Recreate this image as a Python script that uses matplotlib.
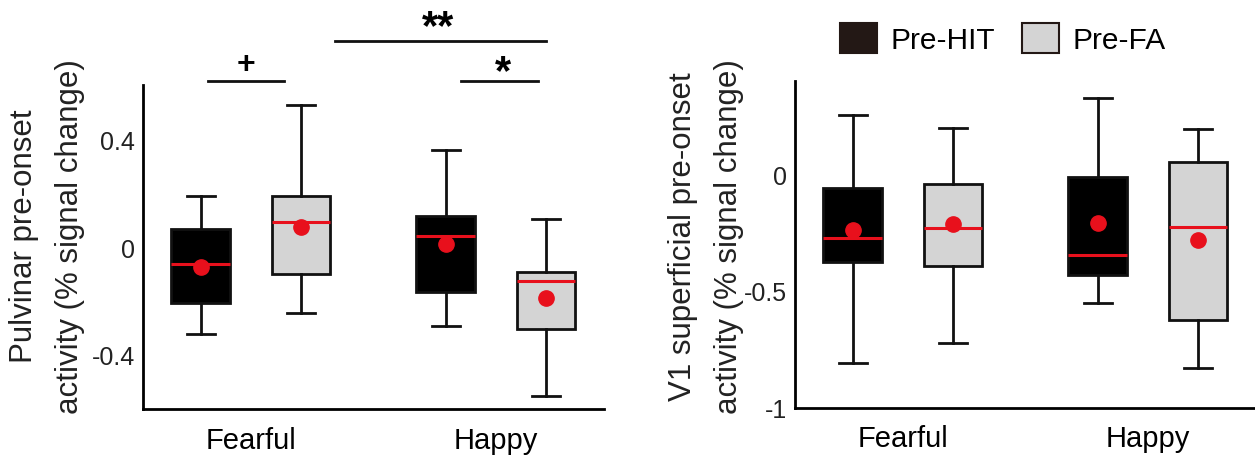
import matplotlib
matplotlib.use("Agg")
import matplotlib.pyplot as plt
from matplotlib.patches import Patch

plt.rcParams['font.family'] = ['Liberation Sans', 'DejaVu Sans']

# Gruppen und Bedingungen
groups = ['Fearful', 'Happy']
conditions = ['Pre-HIT', 'Pre-FA']
colors = ['#000000', '#d4d4d4']

# Pulvinar: Reihenfolge Fearful-HIT, Fearful-FA, Happy-HIT, Happy-FA
pul_whislo = [-0.321, -0.243, -0.294, -0.553]
pul_q1 = [-0.206, -0.099, -0.166, -0.303]
pul_med = [-0.063, 0.094, 0.040, -0.126]
pul_mean = [-0.075, 0.074, 0.010, -0.187]
pul_q3 = [0.067, 0.188, 0.114, -0.092]
pul_whishi = [0.189, 0.528, 0.361, 0.104]

# V1 oberflaechlich
v1_whislo = [-0.808, -0.722, -0.554, -0.830]
v1_q1 = [-0.378, -0.393, -0.433, -0.625]
v1_med = [-0.272, -0.232, -0.345, -0.226]
v1_mean = [-0.239, -0.215, -0.209, -0.282]
v1_q3 = [-0.059, -0.044, -0.014, 0.052]
v1_whishi = [0.251, 0.199, 0.327, 0.191]

positions = [0.795, 1.205, 1.795, 2.205]


def boxstats(lo, q1, med, mean, q3, hi):
    return [dict(whislo=lo[i], q1=q1[i], med=med[i], mean=mean[i],
                 q3=q3[i], whishi=hi[i], fliers=[]) for i in range(len(lo))]


def zeichne(ax, stats, ylim, yticks, yticklabels, ylabel, labelx, labely):
    bp = ax.bxp(stats, positions=positions, widths=0.24, patch_artist=True,
                showmeans=True, showfliers=False,
                boxprops=dict(linewidth=2, edgecolor='#111111'),
                whiskerprops=dict(linewidth=2, color='#111111'),
                capprops=dict(linewidth=2, color='#111111'),
                medianprops=dict(linewidth=2.2, color='#e8101c'),
                meanprops=dict(marker='o', markersize=11, markerfacecolor='#e8101c',
                               markeredgecolor='#e8101c'),
                capwidths=0.115)
    for i, box in enumerate(bp['boxes']):
        box.set_facecolor(colors[i % 2])
    ax.set_xlim(0.56, 2.44)
    ax.set_ylim(*ylim)
    ax.set_yticks(yticks)
    ax.set_yticklabels(yticklabels)
    ax.set_xticks([1, 2])
    ax.set_xticklabels(groups, fontsize=21)
    ax.tick_params(axis='y', length=0, pad=6, labelsize=18, labelcolor='#222222')
    ax.tick_params(axis='x', length=0, pad=12)
    ax.spines['top'].set_visible(False)
    ax.spines['right'].set_visible(False)
    ax.spines['left'].set_linewidth(2)
    ax.spines['bottom'].set_linewidth(2)
    ax.set_ylabel(ylabel, fontsize=22.5, linespacing=1.7, color='#222222')
    ax.yaxis.set_label_coords(labelx, labely)


fig = plt.figure(figsize=(12.55, 4.56), dpi=100)
ax1 = fig.add_axes([0.114, 0.101, 0.367, 0.710])
ax2 = fig.add_axes([0.6335, 0.104, 0.367, 0.717])

zeichne(ax1, boxstats(pul_whislo, pul_q1, pul_med, pul_mean, pul_q3, pul_whishi),
        (-0.6, 0.6), [-0.4, 0, 0.4], ['-0.4', '0', '0.4'],
        'Pulvinar pre-onset\nactivity (% signal change)', -0.125, 0.537)
zeichne(ax2, boxstats(v1_whislo, v1_q1, v1_med, v1_mean, v1_q3, v1_whishi),
        (-1, 0.4), [-1, -0.5, 0], ['-1', '-0.5', '0'],
        'V1 superficial pre-onset\nactivity (% signal change)', -0.11, 0.527)

# Signifikanz-Markierungen
ax1.plot([0.827, 1.136], [0.614, 0.614], color='#111111', lw=2, clip_on=False)
ax1.text(0.98, 0.679, '+', ha='center', va='center', fontsize=23, fontweight='bold')
ax1.plot([1.858, 2.17], [0.614, 0.614], color='#111111', lw=2, clip_on=False)
ax1.text(2.03, 0.65, '*', ha='center', va='center', fontsize=30, fontweight='bold')
ax1.plot([1.343, 2.203], [0.764, 0.764], color='#111111', lw=2, clip_on=False)
ax1.text(1.765, 0.815, '**', ha='center', va='center', fontsize=30, fontweight='bold')

handles = [Patch(facecolor='#231815', edgecolor='#231815', linewidth=1.5),
           Patch(facecolor='#d4d4d4', edgecolor='#231815', linewidth=1.5)]
ax2.legend(handles, conditions, loc='center', bbox_to_anchor=(0.451, 1.129), ncol=2,
           frameon=False, fontsize=21.5, handlelength=1.24, handleheight=1.2,
           handletextpad=0.45, columnspacing=0.93, borderaxespad=0)

fig.savefig('out.png', dpi=100)
